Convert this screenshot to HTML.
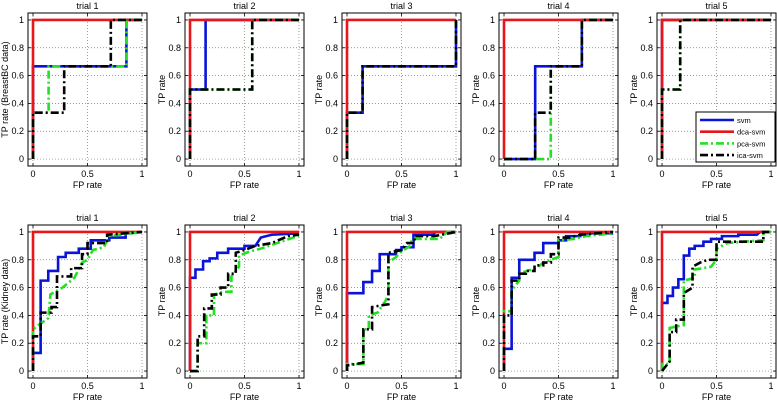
<!DOCTYPE html>
<html><head><meta charset="utf-8"><style>
html,body{margin:0;padding:0;background:#fff;}
svg{display:block;font-family:"Liberation Sans",sans-serif;}
</style></head><body>
<svg id="chart" width="777" height="401" viewBox="0 0 777 401" xmlns="http://www.w3.org/2000/svg"></svg>
<script>
const trialTitles = ["trial 1","trial 2","trial 3","trial 4","trial 5"];
const rowLabels = ["TP rate (BreastBC data)","TP rate (Kidney data)"];
const xTicks = [0,0.5,1];
const xTickLabels = ["0","0.5","1"];
const yTicks = [0,0.2,0.4,0.6,0.8,1];
const yTickLabels = ["0","0.2","0.4","0.6","0.8","1"];
const seriesNames = ["svm","dca-svm","pca-svm","ica-svm"];
const dcaCurve = [[0,0],[0,1],[1,1]];
// top row (BreastBC)
const top1svm = [[0,0],[0,0.667],[0.857,0.667],[0.857,1],[1,1]];
const top1pca = [[0,0],[0,0.333],[0.143,0.333],[0.143,0.667],[0.857,0.667],[0.857,1],[1,1]];
const top1ica = [[0,0],[0,0.333],[0.286,0.333],[0.286,0.667],[0.714,0.667],[0.714,1],[1,1]];
const top2svm = [[0,0],[0,0.5],[0.143,0.5],[0.143,1],[1,1]];
const top2pca = [[0,0],[0,0.5],[0.571,0.5],[0.571,1],[1,1]];
const top2ica = [[0,0],[0,0.5],[0.571,0.5],[0.571,1],[1,1]];
const top3svm = [[0,0],[0,0.333],[0.143,0.333],[0.143,0.667],[1,0.667],[1,1]];
const top3pca = [[0,0],[0,0.333],[0.143,0.333],[0.143,0.667],[1,0.667],[1,1]];
const top3ica = [[0,0],[0,0.333],[0.143,0.333],[0.143,0.667],[1,0.667],[1,1]];
const top4svm = [[0,0],[0.286,0],[0.286,0.667],[0.714,0.667],[0.714,1],[1,1]];
const top4pca = [[0,0],[0.429,0],[0.429,0.667],[0.714,0.667],[0.714,1],[1,1]];
const top4ica = [[0,0],[0.286,0],[0.286,0.333],[0.429,0.333],[0.429,0.667],[0.714,0.667],[0.714,1],[1,1]];
const top5svm = [[0,0],[0,1],[1,1]];
const top5pca = [[0,0],[0,0.5],[0.167,0.5],[0.167,1],[1,1]];
const top5ica = [[0,0],[0,0.5],[0.167,0.5],[0.167,1],[1,1]];
// bottom row (Kidney)
const bot1svm = [[0,0],[0,0.13],[0.07,0.13],[0.07,0.65],[0.14,0.65],[0.14,0.72],[0.23,0.72],[0.23,0.82],[0.3,0.82],[0.3,0.85],[0.42,0.85],[0.42,0.88],[0.53,0.88],[0.53,0.94],[0.7,0.94],[0.7,0.96],[0.85,0.96],[0.85,0.99],[1,1]];
const bot1pca = [[0,0],[0,0.3],[0.05,0.33],[0.14,0.38],[0.16,0.55],[0.2,0.57],[0.27,0.6],[0.38,0.67],[0.45,0.78],[0.5,0.8],[0.55,0.87],[0.65,0.89],[0.7,0.97],[1,1]];
const bot1ica = [[0,0],[0,0.25],[0.07,0.25],[0.07,0.42],[0.17,0.42],[0.17,0.46],[0.22,0.46],[0.22,0.68],[0.35,0.68],[0.35,0.74],[0.45,0.74],[0.45,0.84],[0.5,0.84],[0.5,0.92],[0.68,0.92],[0.68,0.98],[1,1]];
const bot2svm = [[0,0],[0,0.67],[0.05,0.67],[0.05,0.73],[0.12,0.73],[0.12,0.79],[0.18,0.79],[0.18,0.81],[0.25,0.81],[0.25,0.85],[0.35,0.85],[0.35,0.88],[0.5,0.88],[0.5,0.9],[0.6,0.9],[0.65,0.96],[0.75,0.98],[1,0.99]];
const bot2pca = [[0,0],[0.07,0],[0.07,0.2],[0.15,0.2],[0.15,0.4],[0.22,0.4],[0.22,0.55],[0.3,0.57],[0.38,0.57],[0.38,0.68],[0.45,0.75],[0.45,0.83],[0.55,0.86],[0.65,0.88],[0.8,0.92],[0.95,0.96],[1,0.97]];
const bot2ica = [[0,0],[0.07,0],[0.07,0.25],[0.13,0.25],[0.13,0.45],[0.2,0.45],[0.2,0.55],[0.28,0.55],[0.28,0.6],[0.35,0.6],[0.35,0.7],[0.42,0.7],[0.42,0.85],[0.5,0.87],[0.6,0.9],[0.75,0.92],[0.9,0.97],[1,0.98]];
const bot3svm = [[0,0],[0,0.56],[0.15,0.56],[0.15,0.64],[0.23,0.64],[0.23,0.72],[0.3,0.72],[0.3,0.84],[0.45,0.84],[0.45,0.87],[0.5,0.87],[0.5,0.89],[0.61,0.89],[0.61,0.98],[0.8,0.98],[0.8,1],[1,1]];
const bot3pca = [[0,0],[0,0.05],[0.15,0.05],[0.15,0.3],[0.2,0.3],[0.2,0.4],[0.28,0.42],[0.35,0.5],[0.38,0.55],[0.38,0.78],[0.45,0.82],[0.5,0.86],[0.58,0.9],[0.6,0.95],[0.85,0.95],[0.92,1],[1,1]];
const bot3ica = [[0,0],[0,0.04],[0.15,0.06],[0.15,0.3],[0.23,0.3],[0.23,0.46],[0.3,0.47],[0.38,0.48],[0.38,0.85],[0.5,0.87],[0.55,0.92],[0.62,0.92],[0.62,0.97],[0.8,0.97],[1,1]];
const bot4svm = [[0,0],[0,0.16],[0.07,0.16],[0.07,0.67],[0.14,0.67],[0.14,0.8],[0.28,0.8],[0.28,0.85],[0.36,0.85],[0.36,0.92],[0.5,0.92],[0.5,0.94],[0.57,0.94],[0.57,0.97],[0.7,0.97],[0.7,0.99],[1,0.99]];
const bot4pca = [[0,0],[0,0.43],[0.07,0.43],[0.07,0.58],[0.14,0.65],[0.14,0.7],[0.21,0.72],[0.3,0.74],[0.36,0.78],[0.43,0.8],[0.5,0.82],[0.5,0.94],[0.64,0.95],[0.75,0.97],[1,0.99]];
const bot4ica = [[0,0],[0,0.4],[0.07,0.4],[0.07,0.65],[0.14,0.65],[0.14,0.7],[0.2,0.7],[0.2,0.72],[0.28,0.72],[0.28,0.76],[0.36,0.76],[0.36,0.78],[0.43,0.78],[0.43,0.84],[0.5,0.84],[0.5,0.96],[0.6,0.96],[0.7,0.98],[1,1]];
const bot5svm = [[0,0],[0,0.49],[0.05,0.49],[0.05,0.54],[0.1,0.54],[0.1,0.6],[0.15,0.6],[0.15,0.66],[0.2,0.66],[0.2,0.83],[0.25,0.83],[0.25,0.88],[0.3,0.88],[0.3,0.9],[0.38,0.9],[0.38,0.93],[0.45,0.93],[0.45,0.95],[0.55,0.95],[0.55,0.97],[0.7,0.97],[0.7,0.98],[0.87,0.98],[0.9,1],[1,1]];
const bot5pca = [[0,0],[0,0.05],[0.07,0.05],[0.07,0.31],[0.13,0.32],[0.2,0.33],[0.2,0.65],[0.3,0.67],[0.3,0.73],[0.38,0.74],[0.45,0.75],[0.5,0.8],[0.5,0.88],[0.6,0.92],[0.75,0.93],[0.93,0.94],[0.93,1],[1,1]];
const bot5ica = [[0,0],[0.07,0.07],[0.07,0.28],[0.13,0.28],[0.13,0.37],[0.2,0.37],[0.2,0.56],[0.28,0.6],[0.28,0.75],[0.35,0.78],[0.42,0.8],[0.5,0.8],[0.5,0.93],[0.7,0.93],[0.93,0.93],[0.93,1],[1,1]];

const panels = [
 [[top1svm,dcaCurve,top1pca,top1ica],[top2svm,dcaCurve,top2pca,top2ica],[top3svm,dcaCurve,top3pca,top3ica],[top4svm,dcaCurve,top4pca,top4ica],[top5svm,dcaCurve,top5pca,top5ica]],
 [[bot1svm,dcaCurve,bot1pca,bot1ica],[bot2svm,dcaCurve,bot2pca,bot2ica],[bot3svm,dcaCurve,bot3pca,bot3ica],[bot4svm,dcaCurve,bot4pca,bot4ica],[bot5svm,dcaCurve,bot5pca,bot5ica]]
];
const colors = ["#0a14d8","#e8161a","#22e022","#000000"];
const dashes = [null,null,"8,3,2,3","8,3,2,3"];

const NS = "http://www.w3.org/2000/svg";
const svg = document.getElementById("chart");
function mk(tag, attrs, parent){const e=document.createElementNS(NS,tag);for(const k in attrs)e.setAttribute(k,attrs[k]);(parent||svg).appendChild(e);return e;}
const boxLefts = [28,185,342,499,657];
const boxW = 119;
const rowTops = [13,225];
const boxH = 153;
const XMIN=-0.046, XMAX=1.046, YMIN=-0.05, YMAX=1.05;

for(let r=0;r<2;r++){
 for(let c=0;c<5;c++){
  const L=boxLefts[c], T=rowTops[r];
  const sx=v=>L+(v-XMIN)/(XMAX-XMIN)*boxW;
  const sy=v=>T+boxH-(v-YMIN)/(YMAX-YMIN)*boxH;
  const g=mk("g",{});
  
  
  mk("rect",{x:L,y:T,width:boxW,height:boxH,fill:"#fff",stroke:"none"},g);
  xTicks.forEach(v=>{const l=mk("line",{x1:sx(v),x2:sx(v),y1:T,y2:T+boxH,stroke:"#777","stroke-width":0.7,"stroke-dasharray":"1,2"},g);
   });
  yTicks.forEach(v=>{const l=mk("line",{x1:L,x2:L+boxW,y1:sy(v),y2:sy(v),stroke:"#777","stroke-width":0.7,"stroke-dasharray":"1,2"},g);
   });
  panels[r][c].forEach((pts,i)=>{
   const p=mk("polyline",{points:pts.map(q=>sx(q[0])+","+sy(q[1])).join(" "),fill:"none",stroke:colors[i],"stroke-width":2.6,"stroke-linejoin":"miter"},g);
   if(dashes[i])p.setAttribute("stroke-dasharray",dashes[i]);
   
   
  });
  mk("rect",{x:L,y:T,width:boxW,height:boxH,fill:"none",stroke:"#000","stroke-width":1},g);
  xTicks.forEach((v,i)=>{
   mk("line",{x1:sx(v),x2:sx(v),y1:T+boxH,y2:T+boxH-3,stroke:"#000","stroke-width":0.8},g);
   mk("line",{x1:sx(v),x2:sx(v),y1:T,y2:T+3,stroke:"#000","stroke-width":0.8},g);
   const t=mk("text",{x:sx(v),y:T+boxH+11,"font-size":9,"text-anchor":"middle",fill:"#000"},g);
   t.textContent=xTickLabels[i];
   
  });
  yTicks.forEach((v,i)=>{
   mk("line",{x1:L,x2:L+3,y1:sy(v),y2:sy(v),stroke:"#000","stroke-width":0.8},g);
   mk("line",{x1:L+boxW,x2:L+boxW-3,y1:sy(v),y2:sy(v),stroke:"#000","stroke-width":0.8},g);
   const t=mk("text",{x:L-4,y:sy(v)+3,"font-size":9,"text-anchor":"end",fill:"#000"},g);
   t.textContent=yTickLabels[i];
   
  });
  const tt=mk("text",{x:L+boxW/2,y:T-4,"font-size":9,"text-anchor":"middle",fill:"#000"},g);
  tt.textContent=trialTitles[c];
  
  const xl=mk("text",{x:L+boxW/2,y:T+boxH+22,"font-size":9,"text-anchor":"middle",fill:"#000"},g);
  xl.textContent="FP rate";
  
  const yx=L-20, yy=T+boxH/2;
  const yl=mk("text",{x:yx,y:yy,"font-size":9,"text-anchor":"middle",fill:"#000",transform:"rotate(-90 "+yx+" "+yy+")"},g);
  yl.textContent=c===0?rowLabels[r]:"TP rate";
  
 }
}
const lg=mk("g",{});


mk("rect",{x:696,y:112,width:79,height:50,fill:"#fff",stroke:"#000","stroke-width":1},lg);
seriesNames.forEach((n,i)=>{
 const y=120+i*11.7;
 const l=mk("line",{x1:700,x2:734,y1:y,y2:y,stroke:colors[i],"stroke-width":2.6},lg);
 if(dashes[i])l.setAttribute("stroke-dasharray",dashes[i]);
 
 const t=mk("text",{x:737,y:y+3,"font-size":7.5,fill:"#000"},lg);
 t.textContent=n;
 
});
</script>
</body></html>
